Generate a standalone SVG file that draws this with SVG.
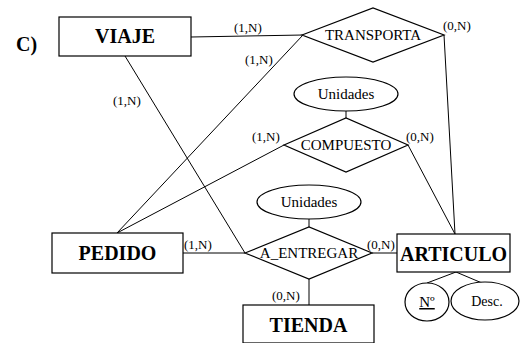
<svg xmlns="http://www.w3.org/2000/svg" width="520" height="343" viewBox="0 0 520 343">
<style>
.box{fill:#fff;stroke:#000;stroke-width:1.2}
.ln{fill:none;stroke:#000;stroke-width:1}
text{font-family:"Liberation Serif","Times New Roman",Times,"DejaVu Serif",serif;fill:#000}
.ent{font-weight:bold;font-size:20px;text-anchor:middle}
.rel{font-size:15px;text-anchor:middle}
.card{font-size:13px}
</style>
<rect width="520" height="343" fill="#fff"/>
<text x="16" y="51" class="ent" style="text-anchor:start">C)</text>
<g id="connectors">
<line class="ln" x1="191" y1="37" x2="303" y2="35"/>
<line class="ln" x1="303" y1="35" x2="117" y2="233"/>
<line class="ln" x1="444" y1="35" x2="455" y2="234"/>
<line class="ln" x1="125" y1="56" x2="245" y2="253"/>
<line class="ln" x1="284" y1="145" x2="117" y2="233"/>
<line class="ln" x1="408" y1="145" x2="455" y2="234"/>
<line class="ln" x1="183" y1="253" x2="245" y2="253"/>
<line class="ln" x1="372" y1="253" x2="397" y2="253"/>
<line class="ln" x1="309" y1="279" x2="309" y2="305"/>
<line class="ln" x1="346" y1="111" x2="346" y2="118"/>
<line class="ln" x1="309" y1="219" x2="309" y2="227"/>
<line class="ln" x1="456" y1="272" x2="427" y2="283"/>
<line class="ln" x1="456" y1="272" x2="482" y2="283"/>
<text class="card" x="234" y="32">(1,N)</text>
<text class="card" x="245" y="64">(1,N)</text>
<text class="card" x="443" y="30">(0,N)</text>
<text class="card" x="113" y="105">(1,N)</text>
<text class="card" x="252" y="141">(1,N)</text>
<text class="card" x="406" y="141">(0,N)</text>
<text class="card" x="184" y="249">(1,N)</text>
<text class="card" x="367" y="249">(0,N)</text>
<text class="card" x="272" y="300">(0,N)</text>
</g>
<g id="VIAJE"><rect class="box" x="59" y="17" width="132" height="39"/><text class="ent" x="125" y="43">VIAJE</text></g>
<g id="PEDIDO"><rect class="box" x="52" y="233" width="131" height="40"/><text class="ent" x="117.5" y="260">PEDIDO</text></g>
<g id="ARTICULO"><rect class="box" x="397" y="234" width="113" height="38"/><text class="ent" x="453.5" y="261">ARTICULO</text></g>
<g id="TIENDA"><rect class="box" x="243" y="305" width="131" height="38"/><text class="ent" x="308.5" y="332">TIENDA</text></g>
<g id="TRANSPORTA"><polygon class="box" points="302,35 373,8 444,35 373,62"/><text class="rel" x="373" y="40">TRANSPORTA</text></g>
<g id="COMPUESTO"><polygon class="box" points="284,145 346,118 408,145 346,172"/><text class="rel" x="346" y="150">COMPUESTO</text></g>
<g id="A_ENTREGAR"><polygon class="box" points="245,253 309,227 372,253 309,279"/><text class="rel" x="309" y="258">A_ENTREGAR</text></g>
<g id="Unidades1"><ellipse class="box" cx="346" cy="94" rx="52" ry="17"/><text class="rel" x="346" y="99">Unidades</text></g>
<g id="Unidades2"><ellipse class="box" cx="309" cy="202" rx="52" ry="17"/><text class="rel" x="309" y="207">Unidades</text></g>
<g id="Num"><ellipse class="box" cx="427" cy="302" rx="22" ry="19"/><text class="rel" x="427" y="307" text-decoration="underline">Nº</text></g>
<g id="Desc"><ellipse class="box" cx="485" cy="301" rx="34" ry="19"/><text class="rel" x="487" y="306" style="font-size:14px">Desc.</text></g>
</svg>
